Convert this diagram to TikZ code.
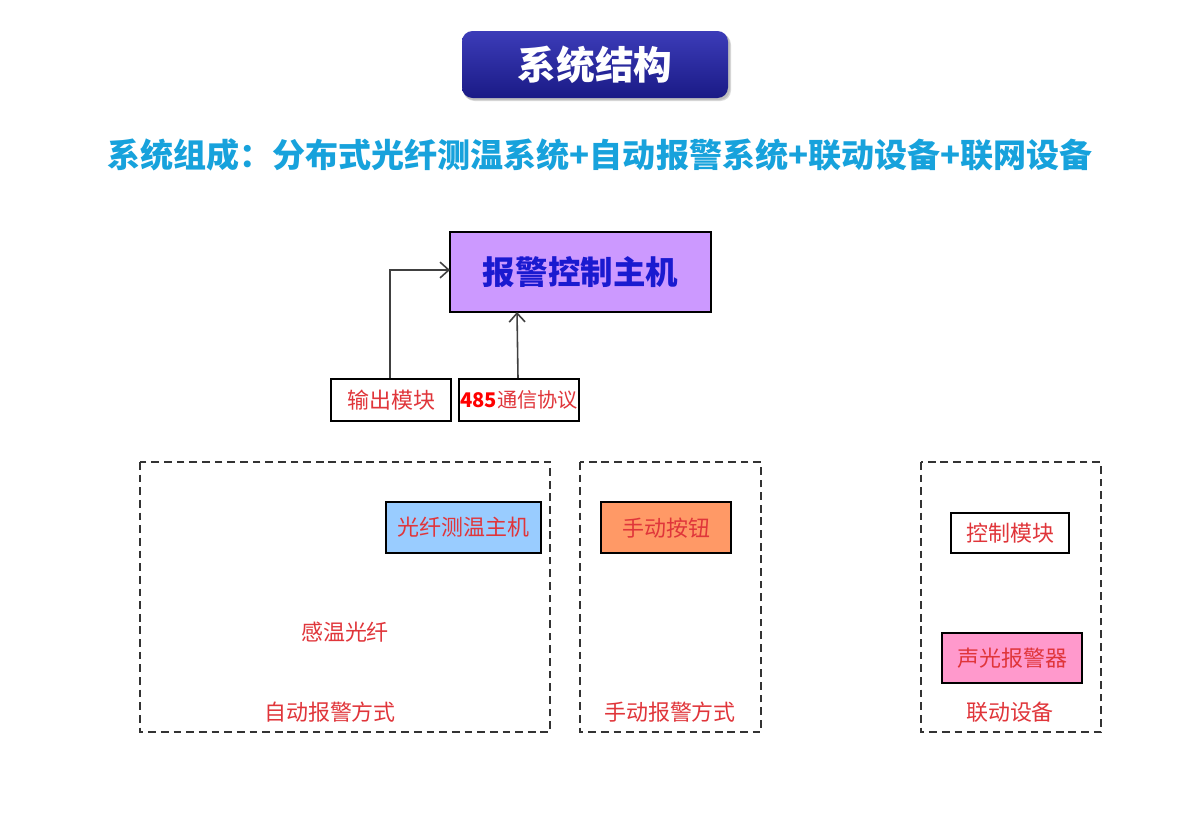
\documentclass[tikz,border=0pt]{standalone}
\usepackage{fontspec}
\setmainfont{Noto Sans CJK SC}
\newfontfamily\cjk{Noto Sans CJK SC}
\usetikzlibrary{arrows.meta,shadows}
\definecolor{titleTop}{HTML}{3C3CB8}
\definecolor{titleBot}{HTML}{1A1A86}
\definecolor{subCyan}{HTML}{17A2DC}
\definecolor{purpleFill}{HTML}{CC99FF}
\definecolor{hostBlue}{HTML}{1A1AD0}
\definecolor{lblRed}{HTML}{E0353A}
\definecolor{blueFill}{HTML}{99CCFF}
\definecolor{orangeFill}{HTML}{FF9966}
\definecolor{pinkFill}{HTML}{FF99CC}
\definecolor{dashGray}{HTML}{333333}
\tikzset{
  px/.style={x=0.02cm,y=-0.02cm},
  solidbox/.style={draw=black,line width=1.3pt,inner sep=0pt,anchor=north west},
  groupbox/.style={draw=dashGray,line width=1.4pt,dash pattern=on 4.4pt off 2.8pt},
  lbl/.style={text=lblRed,font=\fontsize{12.5}{14}\selectfont},
  conn/.style={draw=black!75,line width=0.9pt,-{Straight Barb[length=5pt,width=9pt]}},
}
\begin{document}
\begin{tikzpicture}[px]
\useasboundingbox (0,0) rectangle (1200,819);
\fill[white] (0,0) rectangle (1200,819);
% title
\fill[black!15,rounded corners=6pt] (464,34) rectangle (731,101);
\fill[black!25,rounded corners=6pt] (463,33) rectangle (730,100);
\shade[top color=titleTop,bottom color=titleBot,rounded corners=6pt] (462,31) rectangle (728,98);
\node[text=white,font=\fontsize{22}{24}\selectfont\bfseries] (title) at (595,65) {系统结构};
% subtitle
\node[text=subCyan,font=\fontsize{18.8}{20}\selectfont\bfseries] (sub) at (600,155) {系统组成：分布式光纤测温系统+自动报警系统+联动设备+联网设备};
% main host
\path[solidbox,fill=purpleFill] (450,232) rectangle (711,312);
\node[text=hostBlue,font=\fontsize{18.5}{20}\selectfont\bfseries] (host) at (580.5,272) {报警控制主机};
\coordinate (hostW) at (450,270);
\coordinate (hostS) at (517,312);
% small boxes
\node[solidbox,minimum width=120*0.02cm,minimum height=42*0.02cm,lbl] (out) at (330,378) {输出模块};
\node[solidbox,minimum width=120*0.02cm,minimum height=42*0.02cm,lbl,font=\fontsize{11.5}{13}\selectfont] (rs) at (458,378) {\textcolor{red}{\bfseries 485}通信协议};
\coordinate (outN) at (390,378);
\coordinate (bend) at (390,270);
\draw[conn] (outN) -- (bend) -- (hostW);
\coordinate (rsN) at (518,378);
\draw[conn] (rsN) -- (hostS);
% group 1
\draw[groupbox] (140,462) rectangle (550,732);
\node[solidbox,fill=blueFill,minimum width=155*0.02cm,minimum height=51*0.02cm,lbl] (fiberhost) at (385,501) {光纤测温主机};
\node[lbl] (fiber) at (345,632) {感温光纤};
\node[lbl] (auto) at (330,712) {自动报警方式};
% group 2
\draw[groupbox] (580,462) rectangle (761,732);
\node[solidbox,fill=orangeFill,minimum width=130*0.02cm,minimum height=51*0.02cm,lbl] (btn) at (600,501) {手动按钮};
\node[lbl] (manual) at (670,712) {手动报警方式};
% group 3
\draw[groupbox] (921,462) rectangle (1101,732);
\node[solidbox,fill=white,minimum width=118*0.02cm,minimum height=40*0.02cm,lbl] (ctrl) at (950,512) {控制模块};
\node[solidbox,fill=pinkFill,minimum width=140*0.02cm,minimum height=50*0.02cm,lbl] (alarm) at (941,632) {声光报警器};
\node[lbl] (link) at (1010,712) {联动设备};
\end{tikzpicture}
\end{document}
